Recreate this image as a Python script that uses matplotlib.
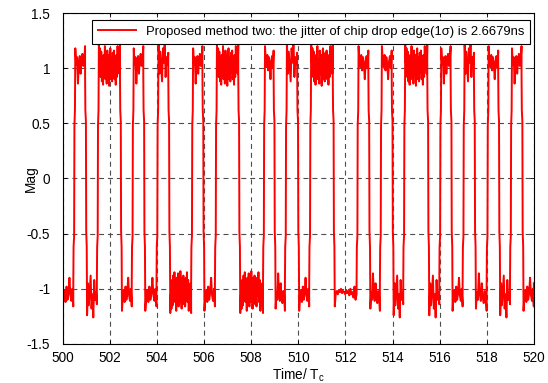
import numpy as np
import matplotlib
matplotlib.use("Agg")
import matplotlib.pyplot as plt

plt.rcParams['font.family'] = ['Liberation Sans', 'DejaVu Sans']
plt.rcParams['mathtext.fontset'] = 'custom'
plt.rcParams['mathtext.rm'] = 'Liberation Sans'
plt.rcParams['mathtext.it'] = 'Liberation Sans:italic'

# ---- data ----
t_start, t_end = 500.0, 520.0
start_level = -1.0
# times of the chip edges (level alternates at each edge)
edge_times = [500.45, 500.95, 501.45, 502.43, 502.93, 503.42, 503.98, 504.48,
              505.45, 505.93, 506.46, 507.45, 508.50, 508.95, 509.43, 509.95,
              510.46, 511.46, 512.47, 512.97, 513.46, 513.96, 514.45, 515.47,
              515.98, 516.46, 516.97, 517.45, 517.99, 518.48, 518.98, 519.47,
              519.99]
# shape of a rising edge (offset from the edge time, value)
edge_dt = [0.0, 0.012, 0.035, 0.048, 0.07]
edge_val = [-0.95, -0.62, -0.52, 0.48, 0.62]
plateau_gap = 0.085
# ripple on the plateaus (deviation away from zero)
short_a = [0.20, 0.06, 0.01, 0.12, -0.02, 0.10, 0.04, -0.10, 0.06, 0.11, 0.00, 0.16]
short_b = [0.18, 0.03, 0.10, -0.14, 0.05, 0.11, -0.05, 0.08, 0.13, 0.02, 0.06, 0.20]
short_c = [0.24, -0.05, 0.15, 0.02, -0.12, 0.18, 0.05, 0.26, -0.08, 0.10, 0.03, 0.14]
long_noisy = [0.22, 0.05, 0.18, -0.08, 0.15, -0.12, 0.10, -0.15, 0.12, -0.05,
              0.20, -0.10, 0.08, -0.14, 0.16, -0.06, 0.12, -0.16, 0.05, 0.18,
              -0.10, 0.10, -0.12, 0.14, -0.04, 0.16, -0.10, 0.06, -0.15, 0.12,
              -0.08, 0.20, 0.00, 0.15, -0.05, 0.22]
long_quiet = [0.16, 0.04, 0.02, 0.05, 0.01, 0.03, 0.00, 0.04, 0.02, 0.03, 0.05,
              0.01, 0.04, 0.02, 0.06, 0.00, 0.05, 0.03, 0.08, -0.02, 0.10, 0.05]
plateau_kind = ['a', 'b', 'c', 'L', 'a', 'b', 'a', 'c', 'L', 'b', 'a', 'L',
                'L', 'a', 'b', 'c', 'a', 'L', 'Q', 'a', 'b', 'a', 'c', 'L',
                'c', 'b', 'a', 'c', 'b', 'a', 'c', 'b', 'a', 'a']
legend_label = 'Proposed method two: the jitter of chip drop edge(1σ) is 2.6679ns'
x_ticks = list(range(500, 521, 2))
y_ticks = [-1.5, -1, -0.5, 0, 0.5, 1, 1.5]
y_tick_labels = ['-1.5', '-1', '-0.5', '0', '0.5', '1', '1.5']

templates = {'a': short_a, 'b': short_b, 'c': short_c, 'L': long_noisy, 'Q': long_quiet}

# ---- build waveform ----
ts, ys = [], []
level = start_level
bounds = [t_start] + edge_times + [t_end]
for i in range(len(bounds) - 1):
    a = bounds[i] + (plateau_gap if i > 0 else 0.0)
    b = bounds[i + 1]
    if b <= a:
        continue
    tmpl = templates[plateau_kind[i]]
    tt = np.linspace(a, b, len(tmpl))
    for tv, dv in zip(tt, tmpl):
        ts.append(tv)
        ys.append(level * (1.0 + dv))
    if i < len(edge_times):
        sgn = -level  # direction of the edge
        for dt, v in zip(edge_dt, edge_val):
            ts.append(edge_times[i] + dt)
            ys.append(sgn * v)
        level = -level
ts = np.array(ts)
ys = np.array(ys)
mask = ts <= t_end
ts, ys = ts[mask], ys[mask]

# ---- plot ----
fig = plt.figure(figsize=(5.48, 3.83), dpi=100)
ax = fig.add_axes([0.1144, 0.102, 0.8601, 0.864])
ax.plot(ts, ys, color='red', lw=1.4, label=legend_label)
ax.set_xlim(t_start, t_end)
ax.set_ylim(-1.5, 1.5)
ax.set_xticks(x_ticks)
ax.set_yticks(y_ticks)
ax.set_yticklabels(y_tick_labels)
ax.grid(True, color='0.3', linestyle=(0, (4.5, 3.5)), lw=0.8)
ax.tick_params(direction='in', top=True, right=True, length=3, width=0.6,
               labelsize=9.8)
ax.tick_params(axis='x', pad=5)
ax.tick_params(axis='y', pad=9)
for s in ax.spines.values():
    s.set_linewidth(0.8)
ax.set_xlabel('Time/ T$_{\\mathrm{c}}$', fontsize=9.8, labelpad=1)
ax.set_ylabel('Mag', fontsize=9.8, labelpad=-8)
leg = ax.legend(loc='upper right', bbox_to_anchor=(0.992, 0.98), borderaxespad=0,
                fancybox=False, framealpha=1, edgecolor='black', fontsize=9.4,
                handlelength=2.9, handletextpad=0.8, borderpad=0.45)
leg.get_frame().set_linewidth(0.8)
fig.savefig('out.png', dpi=100)
